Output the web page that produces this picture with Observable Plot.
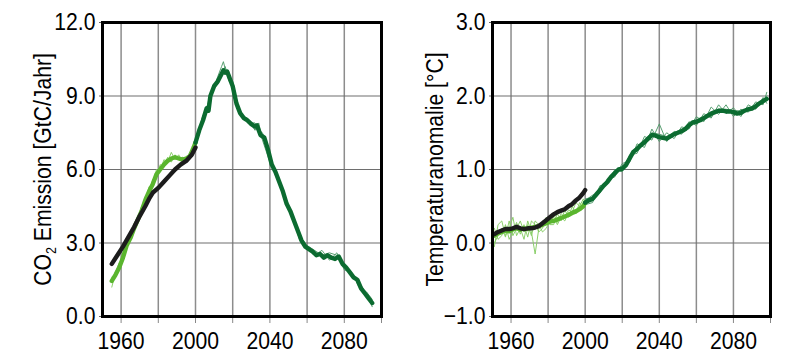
<!DOCTYPE html>
<html><head><meta charset="utf-8">
<script src="https://cdn.jsdelivr.net/npm/d3@7"></script>
<script src="https://cdn.jsdelivr.net/npm/@observablehq/plot@0.6"></script>
<style>
body{margin:0;background:#fff;}
#wrap{display:flex;width:800px;height:364px;}
#wrap > div{width:400px;height:364px;}
</style></head><body><div id="wrap"><div id="left"></div><div id="right"></div></div>
<script>
// ---------- LEFT PANEL: CO2 emissions ----------
const co2ObsYears = [1955,1958,1961,1964,1967,1970,1973,1975,1977,1980,1983,1986,1989,1992,1995,1998,2000];
const co2ObsVals  = [2.15,2.5,2.85,3.25,3.65,4.1,4.5,4.8,5.05,5.25,5.5,5.75,6.0,6.2,6.35,6.6,6.9];

const co2HistYears = [1955,1957,1959,1961,1963,1965,1967,1969,1971,1973,1975,1977,1979,1981,1983,1985,1987,1989,1991,1993,1995,1997,1999,2000];
const co2HistMean  = [1.45,1.7,2.0,2.4,2.9,3.2,3.6,3.95,4.3,4.75,5.1,5.4,5.8,6.0,6.2,6.35,6.45,6.5,6.45,6.4,6.45,6.55,6.9,7.1];
const co2HistM1    = [1.2,1.8,2.2,2.3,3.0,3.1,3.8,3.9,4.5,4.6,5.3,5.3,6.0,5.9,6.4,6.3,6.7,6.4,6.6,6.3,6.5,6.5,7.0,7.2];
const co2HistM2    = [1.6,1.6,1.9,2.6,2.8,3.4,3.5,4.1,4.2,4.9,5.0,5.6,5.7,6.2,6.1,6.5,6.3,6.6,6.4,6.5,6.4,6.7,6.8,7.0];

const co2FutYears = [2000,2002,2004,2006,2007,2008,2010,2012,2014,2015,2016,2017,2018,2020,2022,2024,2026,2028,2030,2032,2033,2035,2037,2039,2041,2043,2045,2047,2049,2051,2053,2055,2057,2059,2061,2063,2065,2067,2069,2071,2073,2075,2077,2079,2081,2083,2085,2087,2089,2091,2093,2095];
const co2FutMean  = [7.1,7.6,8.0,8.5,8.4,9.0,9.4,9.6,9.9,10.05,9.95,10.0,9.8,9.4,8.7,8.3,8.1,8.0,7.85,7.75,7.8,7.4,7.3,6.8,6.2,5.9,5.5,5.1,4.6,4.3,3.9,3.5,3.1,2.85,2.75,2.65,2.5,2.55,2.4,2.5,2.4,2.35,2.45,2.15,2.0,1.8,1.6,1.5,1.15,0.95,0.75,0.55];
const co2FutMYears = [2000,2004,2008,2012,2014,2015,2016,2018,2020,2024,2028,2032,2034,2036,2040,2044,2048,2052,2056,2060,2064,2068,2072,2076,2080,2084,2088,2092,2095];
const co2FutM1 = [7.2,8.2,8.9,9.8,10.2,10.4,10.1,10.0,9.2,8.4,7.9,7.9,7.6,7.5,6.5,5.7,4.9,4.1,3.3,2.9,2.7,2.5,2.6,2.5,2.1,1.7,1.4,0.9,0.4];
const co2FutM2 = [7.0,7.9,9.1,9.5,9.8,10.0,10.2,9.6,9.6,8.2,8.1,7.6,7.9,7.2,6.3,5.8,4.7,4.2,3.1,2.8,2.5,2.7,2.3,2.6,1.9,1.8,1.2,1.0,0.7];

const co2Ticks = [0,3,6,9,12];

// ---------- RIGHT PANEL: temperature anomaly ----------
const tObsYears = [1951,1953,1955,1957,1959,1961,1963,1965,1967,1969,1971,1973,1975,1977,1979,1981,1983,1985,1987,1989,1991,1993,1995,1997,1999,2000];
const tObsVals  = [0.12,0.15,0.17,0.19,0.19,0.2,0.22,0.2,0.19,0.2,0.2,0.21,0.23,0.27,0.31,0.35,0.39,0.42,0.44,0.46,0.5,0.53,0.58,0.62,0.68,0.72];

const tHistYears = tObsYears;
const tHistMean = [0.10,0.13,0.15,0.17,0.16,0.19,0.2,0.18,0.2,0.19,0.21,0.22,0.23,0.25,0.27,0.29,0.3,0.32,0.34,0.36,0.38,0.41,0.43,0.46,0.5,0.55];
const tHistM1 = [-0.05,0.25,0.3,0.1,0.2,0.35,0.1,0.2,0.05,0.3,0.15,-0.15,0.2,0.3,0.25,0.35,0.4,0.28,0.4,0.35,0.45,0.42,0.55,0.5,0.6,0.55];
const tHistM2 = [0.2,0.05,0.1,0.25,0.05,0.15,0.28,0.12,0.25,0.08,0.3,0.25,0.15,0.2,0.35,0.25,0.25,0.4,0.3,0.45,0.35,0.5,0.4,0.55,0.48,0.52];
const tHistM3 = [0.0,0.1,0.2,0.08,0.3,0.1,0.2,0.3,0.15,0.25,0.1,0.3,0.25,0.15,0.2,0.3,0.35,0.25,0.35,0.3,0.42,0.38,0.45,0.5,0.52,0.58];

const tFutYears = [2000,2002,2004,2006,2008,2010,2012,2014,2016,2018,2020,2022,2024,2026,2028,2030,2032,2034,2036,2038,2040,2042,2044,2046,2048,2050,2052,2054,2056,2058,2060,2062,2064,2066,2068,2070,2072,2074,2076,2078,2080,2082,2084,2086,2088,2090,2092,2094,2096,2098];
const tFutMean = [0.55,0.58,0.6,0.66,0.72,0.78,0.83,0.9,0.95,1.0,1.01,1.06,1.15,1.24,1.28,1.33,1.37,1.42,1.47,1.46,1.44,1.43,1.42,1.45,1.48,1.5,1.52,1.55,1.6,1.64,1.65,1.67,1.7,1.73,1.76,1.78,1.8,1.8,1.79,1.79,1.78,1.76,1.77,1.8,1.82,1.83,1.86,1.9,1.93,1.96];
const tFutMYears = [2000,2004,2008,2012,2016,2020,2024,2028,2032,2036,2040,2044,2048,2052,2056,2060,2064,2068,2072,2076,2080,2084,2088,2092,2096,2098];
const tFutM1 = [0.58,0.65,0.68,0.88,0.92,1.05,1.1,1.35,1.3,1.55,1.38,1.5,1.42,1.58,1.55,1.72,1.65,1.85,1.75,1.88,1.72,1.82,1.78,1.92,1.88,2.05];
const tFutM2 = [0.52,0.55,0.78,0.8,1.0,0.97,1.2,1.22,1.45,1.4,1.62,1.38,1.52,1.48,1.65,1.6,1.76,1.7,1.88,1.76,1.84,1.72,1.88,1.82,1.98,1.9];
const tFutM3 = [0.6,0.62,0.7,0.86,0.9,1.08,1.12,1.3,1.4,1.5,1.48,1.45,1.5,1.55,1.58,1.68,1.72,1.72,1.82,1.82,1.8,1.8,1.8,1.88,1.92,2.0];

const tTicks = [-1,0,1,2,3];

const xTicks = [1960,1980,2000,2020,2040,2060,2080,2100];
const xGrid = [1960,1980,2000,2020,2040,2060,2080];

// ---------- colours ----------
const DARK = "#0b6b30", DARK_THIN = "#4f9a69";
const LIGHT = "#5ab52e", LIGHT_THIN = "#86cc64";
const OBS = "#1c1c1c";
const FONT = "'Liberation Sans','Arial',sans-serif";
const FONT_PX = 23.5;
const SQUEEZE = 0.9;

const pts = (years, vals) => years.map((x, i) => ({x, y: vals[i]}));

function panel({marginLeft, marginRight, yDomain, yTicks, label, thin, thick, labelOffset}) {
  const marks = [
    Plot.gridX(xGrid, {stroke: "#8c8c8c", strokeOpacity: 1, strokeWidth: 1.5}),
    Plot.gridY(yTicks.slice(1, -1), {stroke: "#6e6e6e", strokeOpacity: 1, strokeWidth: 1.2}),
    Plot.axisX({ticks: xTicks, tickSize: 7, tickPadding: 9, stroke: "#888", fill: "black",
      tickFormat: d => d % 40 === 0 ? String(d) : "", label: null}),
    Plot.axisY({ticks: yTicks, tickSize: 3, tickPadding: 4, stroke: "#666", fill: "black",
      tickFormat: d3.format(".1f"), label, labelAnchor: "center", labelArrow: "none", labelOffset}),
  ];
  for (const t of thin) marks.push(Plot.line(pts(t.years, t.vals), {x: "x", y: "y", stroke: t.color, strokeWidth: 1, strokeOpacity: 0.95}));
  for (const t of thick) marks.push(Plot.line(pts(t.years, t.vals), {x: "x", y: "y", stroke: t.color, strokeWidth: 4.4, strokeLinejoin: "round", strokeLinecap: "round"}));
  marks.push(Plot.frame({stroke: "black", strokeWidth: 3}));
  return Plot.plot({
    width: 400, height: 364,
    marginLeft, marginRight, marginTop: 22, marginBottom: 48,
    style: {fontFamily: FONT, fontSize: FONT_PX + "px", background: "white", color: "black"},
    x: {domain: [1950, 2100]},
    y: {domain: yDomain},
    marks
  });
}

function squeezeText(svg) {
  svg.querySelectorAll("text").forEach(el => {
    el.style.fontSize = FONT_PX + "px";
    el.style.fontFamily = FONT;
  });
  svg.querySelectorAll("text").forEach(el => {
    if (!el.textContent) return;
    const w = el.getComputedTextLength();
    if (w > 0) {
      el.setAttribute("textLength", (w * SQUEEZE).toFixed(2));
      el.setAttribute("lengthAdjust", "spacingAndGlyphs");
    }
  });
}

const left = panel({
  marginLeft: 102, marginRight: 19, yDomain: [0, 12], yTicks: co2Ticks,
  label: "CO2 Emission [GtC/Jahr]", labelOffset: 68,
  thin: [
    {years: co2HistYears, vals: co2HistM1, color: LIGHT_THIN},
    {years: co2HistYears, vals: co2HistM2, color: LIGHT_THIN},
    {years: co2FutMYears, vals: co2FutM1, color: DARK_THIN},
    {years: co2FutMYears, vals: co2FutM2, color: DARK_THIN},
  ],
  thick: [
    {years: co2HistYears, vals: co2HistMean, color: LIGHT},
    {years: co2FutYears, vals: co2FutMean, color: DARK},
    {years: co2ObsYears, vals: co2ObsVals, color: OBS},
  ]
});
document.getElementById("left").appendChild(left);

const right = panel({
  marginLeft: 92, marginRight: 30, yDomain: [-1, 3], yTicks: tTicks,
  label: "Temperaturanomalie [°C]", labelOffset: 66,
  thin: [
    {years: tHistYears, vals: tHistM1, color: LIGHT_THIN},
    {years: tHistYears, vals: tHistM2, color: LIGHT_THIN},
    {years: tHistYears, vals: tHistM3, color: LIGHT_THIN},
    {years: tFutMYears, vals: tFutM1, color: DARK_THIN},
    {years: tFutMYears, vals: tFutM2, color: DARK_THIN},
    {years: tFutMYears, vals: tFutM3, color: DARK_THIN},
  ],
  thick: [
    {years: tHistYears, vals: tHistMean, color: LIGHT},
    {years: tFutYears, vals: tFutMean, color: DARK},
    {years: tObsYears, vals: tObsVals, color: OBS},
  ]
});
document.getElementById("right").appendChild(right);

// subscript in CO2 label
const lab = left.querySelector('[aria-label="y-axis label"] text');
if (lab) {
  lab.textContent = "";
  const ns = "http://www.w3.org/2000/svg";
  const a = document.createElementNS(ns, "tspan"); a.textContent = "CO";
  const b = document.createElementNS(ns, "tspan"); b.textContent = "2"; b.setAttribute("font-size", "14"); b.setAttribute("dy", "5");
  const c = document.createElementNS(ns, "tspan"); c.textContent = " Emission [GtC/Jahr]"; c.setAttribute("dy", "-5");
  lab.append(a, b, c);
}
squeezeText(left);
squeezeText(right);
</script></body></html>
